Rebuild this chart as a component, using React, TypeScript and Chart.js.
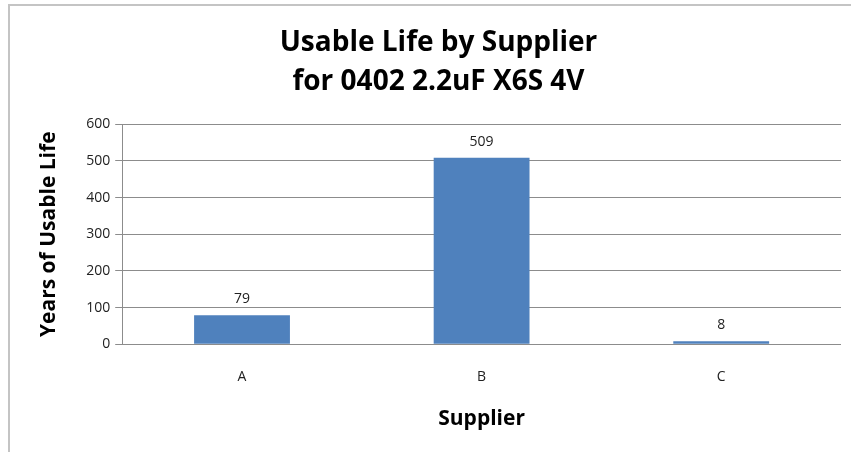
import React, { useEffect, useRef } from "react";
import { Chart, registerables } from "chart.js";

Chart.register(...registerables);

const categories = ["A", "B", "C"];
const usableLife = [79, 509, 8];
const yTicks = [0, 100, 200, 300, 400, 500, 600];
const titleLines = ["Usable Life by Supplier", "for 0402 2.2uF X6S 4V"];
const xTitle = "Supplier";
const yTitle = "Years of Usable Life";

const FONT = "'Open Sans', 'Noto Sans', sans-serif";

const dataLabels = {
  id: "dataLabels",
  afterDatasetsDraw(chart: any) {
    const ctx = chart.ctx;
    const meta = chart.getDatasetMeta(0);
    ctx.save();
    ctx.font = `14px ${FONT}`;
    ctx.fillStyle = "#222";
    ctx.textAlign = "center";
    ctx.textBaseline = "bottom";
    meta.data.forEach((bar: any, i: number) => {
      ctx.fillText(String(chart.data.datasets[0].data[i]), bar.x, bar.y - 9);
    });
    ctx.restore();
  },
};

export default function App() {
  const ref = useRef<HTMLCanvasElement>(null);
  useEffect(() => {
    if (!ref.current) return;
    const chart = new Chart(ref.current, {
      type: "bar",
      data: {
        labels: categories,
        datasets: [
          {
            data: usableLife,
            backgroundColor: "#4F81BD",
            barPercentage: 0.4,
            categoryPercentage: 1,
          },
        ],
      },
      options: {
        animation: false,
        responsive: false,
        layout: { padding: { top: 24, right: 10, left: 36, bottom: 22 } },
        plugins: {
          legend: { display: false },
          tooltip: { enabled: false },
          title: {
            display: true,
            text: titleLines,
            color: "#000",
            font: { family: FONT, size: 28, weight: "bold", lineHeight: 1.38 },
            padding: { top: 0, bottom: 23 },
          },
        },
        scales: {
          x: {
            grid: { display: false, drawTicks: false },
            border: { display: false },
            ticks: { color: "#222", font: { family: FONT, size: 14 }, padding: 24 },
            title: {
              display: true,
              text: xTitle,
              color: "#000",
              font: { family: FONT, size: 21, weight: "bold", lineHeight: 1.0 },
              padding: { top: 0, bottom: 0 },
            },
          },
          y: {
            min: 0,
            max: 600,
            afterBuildTicks: (axis: any) => {
              axis.ticks = yTicks.map((v) => ({ value: v }));
            },
            grid: { color: "#8c8c8c", lineWidth: 1, tickLength: 7, drawTicks: true },
            border: { display: true, color: "#8c8c8c" },
            ticks: { color: "#222", font: { family: FONT, size: 14 }, padding: 5 },
            title: {
              display: true,
              text: yTitle,
              color: "#000",
              font: { family: FONT, size: 21, weight: "bold" },
              padding: { top: 0, bottom: 20 },
            },
          },
        },
      },
      plugins: [dataLabels],
    });
    return () => chart.destroy();
  }, []);
  return (
    <div style={{ position: "fixed", left: 0, top: 0, width: 851, height: 452, background: "#fff", overflow: "hidden" }}>
      <div
        style={{
          position: "absolute",
          left: 8,
          top: 4,
          width: 900,
          height: 500,
          border: "2px solid #c4c4c4",
          boxSizing: "border-box",
        }}
      />
      <canvas ref={ref} width={851} height={452} style={{ position: "absolute", left: 0, top: 0 }} />
    </div>
  );
}
